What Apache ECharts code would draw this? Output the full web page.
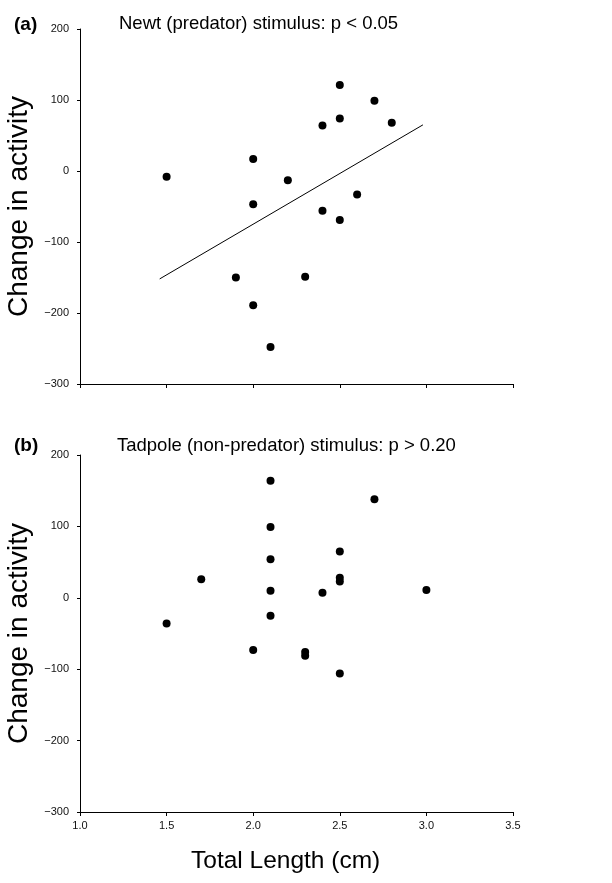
<!DOCTYPE html>
<html><head><meta charset="utf-8">
<script src="https://cdn.jsdelivr.net/npm/echarts@6/dist/echarts.min.js"></script>
<style>html,body{margin:0;padding:0;background:#fff}#c{width:612px;height:883px}</style>
</head><body><div id="c"></div>
<script>
// Panel (a): Newt (predator) stimulus
const newtX = [1.5, 2.0, 2.2, 2.4, 2.5, 2.5, 2.7, 2.8, 2.6, 2.0, 2.4, 2.5, 1.9, 2.3, 2.0, 2.1];
const newtY = [-8, 17, -13, 64, 121, 74, 99, 68, -33, -47, -56, -69, -150, -149, -189, -248];
// Regression line end points
const fitX = [1.46, 2.98];
const fitY = [-152, 65];
// Panel (b): Tadpole (non-predator) stimulus
const tadX = [2.1, 2.1, 2.1, 2.1, 1.7, 2.4, 2.5, 2.5, 2.5, 2.7, 3.0, 1.5, 2.1, 2.0, 2.3, 2.3, 2.5];
const tadY = [164, 99, 54, 10, 26, 7, 65, 23, 28, 138, 11, -36, -25, -73, -76, -81, -106];
const xTicks = ['1.0', '1.5', '2.0', '2.5', '3.0', '3.5'];
const yTicks = [-300, -200, -100, 0, 100, 200];

const FONT = 'Liberation Sans';
const chart = echarts.init(document.getElementById('c'), null, {renderer: 'canvas'});
const pair = (xs, ys) => xs.map((x, i) => [x, ys[i]]);

function xAxis(idx, showLabels) {
  return {
    type: 'value', gridIndex: idx, min: 1.0, max: 3.5, interval: 0.5,
    axisLine: {show: true, onZero: false, lineStyle: {color: '#000', width: 1}},
    axisTick: {show: true, length: 4, lineStyle: {color: '#000'}},
    splitLine: {show: false},
    axisLabel: {show: showLabels, color: '#111', fontSize: 11, fontFamily: FONT, margin: 8,
      formatter: v => xTicks[Math.round((v - 1.0) / 0.5)]}
  };
}
function yAxis(idx) {
  return {
    type: 'value', gridIndex: idx, min: yTicks[0], max: yTicks[yTicks.length - 1], interval: 100,
    axisLine: {show: true, onZero: false, lineStyle: {color: '#000', width: 1}},
    axisTick: {show: true, length: 3, lineStyle: {color: '#000'}},
    splitLine: {show: false},
    axisLabel: {color: '#111', fontSize: 11, fontFamily: FONT, margin: 11,
      formatter: v => v < 0 ? '\u2212' + Math.abs(v) : String(v)},
    name: 'Change in activity', nameLocation: 'middle', nameGap: 43,
    nameTextStyle: {fontSize: 28, fontFamily: FONT, color: '#000'}
  };
}

chart.setOption({
  animation: false,
  backgroundColor: '#fff',
  title: [
    {text: 'Newt (predator) stimulus: p < 0.05', left: 114, top: 9,
     textStyle: {fontSize: 18.5, fontWeight: 'normal', fontFamily: FONT, color: '#000'}},
    {text: 'Tadpole (non-predator) stimulus: p > 0.20', left: 112, top: 431,
     textStyle: {fontSize: 18.5, fontWeight: 'normal', fontFamily: FONT, color: '#000'}},
    {text: '(a)', left: 9, top: 10,
     textStyle: {fontSize: 19, fontWeight: 'bold', fontFamily: FONT, color: '#000'}},
    {text: '(b)', left: 9, top: 431,
     textStyle: {fontSize: 19, fontWeight: 'bold', fontFamily: FONT, color: '#000'}},
    {text: 'Total Length (cm)', left: 186, top: 844,
     textStyle: {fontSize: 24.5, fontWeight: 'normal', fontFamily: FONT, color: '#000'}}
  ],
  grid: [
    {left: 80, top: 29, width: 433, height: 355, outerBoundsMode: 'none', containLabel: false},
    {left: 80, top: 455, width: 433, height: 357, outerBoundsMode: 'none', containLabel: false}
  ],
  xAxis: [xAxis(0, false), xAxis(1, true)],
  yAxis: [yAxis(0), yAxis(1)],
  series: [
    {type: 'scatter', xAxisIndex: 0, yAxisIndex: 0, data: pair(newtX, newtY),
     symbol: 'circle', symbolSize: 8, itemStyle: {color: '#000', opacity: 1}},
    {type: 'line', xAxisIndex: 0, yAxisIndex: 0, data: pair(fitX, fitY),
     showSymbol: false, symbol: 'none', lineStyle: {color: '#000', width: 1}},
    {type: 'scatter', xAxisIndex: 1, yAxisIndex: 1, data: pair(tadX, tadY),
     symbol: 'circle', symbolSize: 8, itemStyle: {color: '#000', opacity: 1}}
  ]
});
</script></body></html>
